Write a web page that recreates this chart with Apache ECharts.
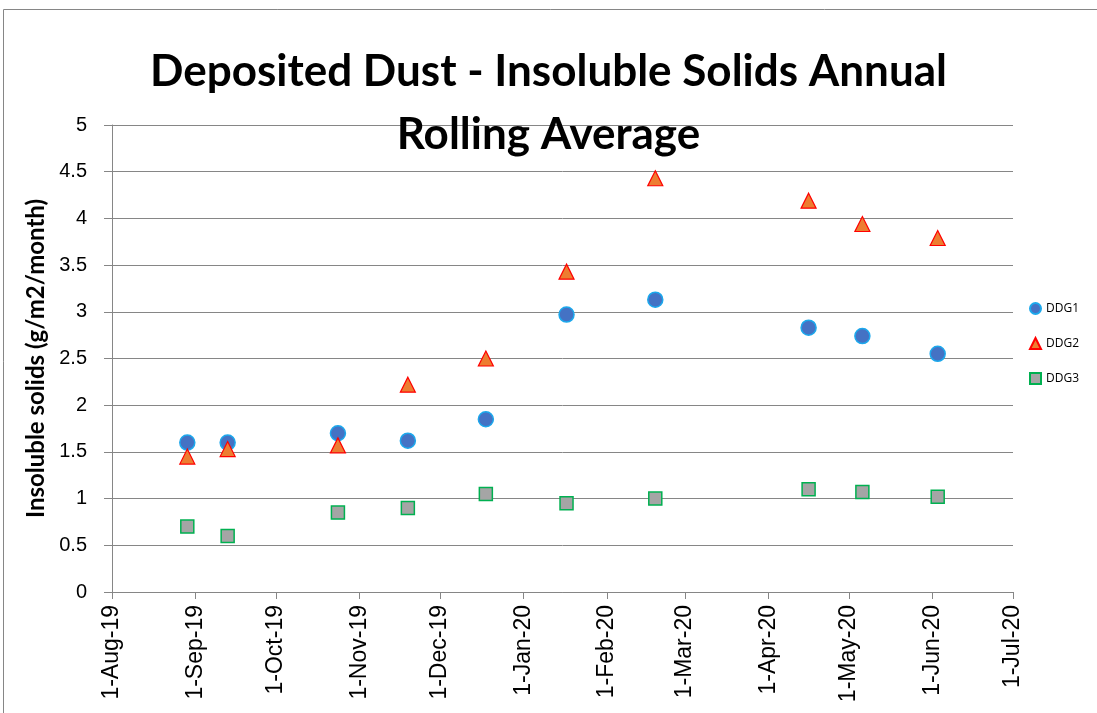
<!DOCTYPE html>
<html>
<head>
<meta charset="utf-8">
<script src="https://cdn.jsdelivr.net/npm/echarts@6/dist/echarts.min.js"></script>
<style>
  html, body { margin: 0; padding: 0; background: #fff; }
  #chart { width: 1097px; height: 713px; }
</style>
</head>
<body>
<div id="chart"></div>
<script>
// sample dates and annual rolling averages
var sampleDates = ['2019-08-29', '2019-09-13', '2019-10-24', '2019-11-19', '2019-12-18',
  '2020-01-17', '2020-02-19', '2020-04-16', '2020-05-06', '2020-06-03']
var ddg1 = [1.6, 1.6, 1.7, 1.62, 1.85, 2.97, 3.13, 2.83, 2.74, 2.55]
var ddg2 = [1.45, 1.53, 1.57, 2.22, 2.5, 3.43, 4.43, 4.19, 3.94, 3.79]
var ddg3 = [0.7, 0.6, 0.85, 0.9, 1.05, 0.95, 1.0, 1.1, 1.07, 1.02]

// x axis tick labels (month starts)
var tickDates = ['2019-08-01', '2019-09-01', '2019-10-01', '2019-11-01', '2019-12-01', '2020-01-01',
  '2020-02-01', '2020-03-01', '2020-04-01', '2020-05-01', '2020-06-01', '2020-07-01']
var monthNames = ['Jan', 'Feb', 'Mar', 'Apr', 'May', 'Jun', 'Jul', 'Aug', 'Sep', 'Oct', 'Nov', 'Dec']

function toTime(s) {
  var p = s.split('-')
  return new Date(+p[0], +p[1] - 1, +p[2]).getTime()
}
function pairs(vals) {
  return vals.map(function(v, i) { return [toTime(sampleDates[i]), v] })
}
var tickTimes = tickDates.map(toTime)

var chart = echarts.init(document.getElementById('chart'))
chart.setOption({
  animation: false,
  textStyle: { fontFamily: 'Liberation Sans' },
  title: {
    text: 'Deposited Dust - Insoluble Solids Annual\nRolling Average',
    left: 'center',
    top: 35,
    textStyle: {
      fontFamily: 'Lato',
      fontWeight: 'bold',
      fontSize: 44,
      lineHeight: 63,
      color: '#000'
    }
  },
  graphic: [{
    type: 'rect',
    shape: { x: 3.5, y: 9.5, width: 1200, height: 800 },
    style: { fill: 'none', stroke: '#868686', lineWidth: 1 },
    silent: true
  }],
  legend: {
    orient: 'vertical',
    left: 1024,
    top: 297,
    itemGap: 22,
    itemWidth: 11,
    itemHeight: 11,
    textStyle: { fontSize: 12, color: '#000', fontFamily: 'Open Sans' },
    data: ['DDG1', 'DDG2', 'DDG3']
  },
  grid: {
    left: 112,
    right: 84,
    top: 125,
    bottom: 121
  },
  xAxis: {
    type: 'value',
    min: tickTimes[0],
    max: tickTimes[tickTimes.length - 1],
    axisLine: { lineStyle: { color: '#868686' } },
    axisTick: {
      customValues: tickTimes,
      length: 7,
      lineStyle: { color: '#868686' }
    },
    axisLabel: {
      customValues: tickTimes,
      rotate: 90,
      margin: 13,
      fontSize: 23,
      color: '#000',
      formatter: function(v) {
        var d = new Date(v)
        return d.getDate() + '-' + monthNames[d.getMonth()] + '-' + String(d.getFullYear()).slice(2)
      }
    },
    splitLine: { show: false }
  },
  yAxis: {
    type: 'value',
    min: 0,
    max: 5,
    interval: 0.5,
    name: 'Insoluble solids (g/m2/month)',
    nameLocation: 'middle',
    nameGap: 60,
    nameTextStyle: {
      fontFamily: 'Lato',
      fontWeight: 'bold',
      fontSize: 24,
      color: '#000'
    },
    axisLine: { show: true, lineStyle: { color: '#868686' } },
    axisTick: { show: true, length: 8, lineStyle: { color: '#868686' } },
    axisLabel: { fontSize: 20, color: '#000', margin: 25 },
    splitLine: { lineStyle: { color: '#868686', width: 1 } }
  },
  series: [{
    name: 'DDG1',
    type: 'scatter',
    symbol: 'circle',
    symbolSize: 15,
    itemStyle: { color: '#4472C4', borderColor: '#1CA8EC', borderWidth: 1.5, opacity: 1 },
    data: pairs(ddg1)
  },
  {
    name: 'DDG2',
    type: 'scatter',
    symbol: 'triangle',
    symbolSize: 15,
    itemStyle: { color: '#ED7D31', borderColor: '#FF0000', borderWidth: 1.2, opacity: 1 },
    data: pairs(ddg2)
  },
  {
    name: 'DDG3',
    type: 'scatter',
    symbol: 'rect',
    symbolSize: 13,
    itemStyle: { color: '#A5A5A5', borderColor: '#00B050', borderWidth: 1.5, opacity: 1 },
    data: pairs(ddg3)
  }
  ]
})
</script>
</body>
</html>
